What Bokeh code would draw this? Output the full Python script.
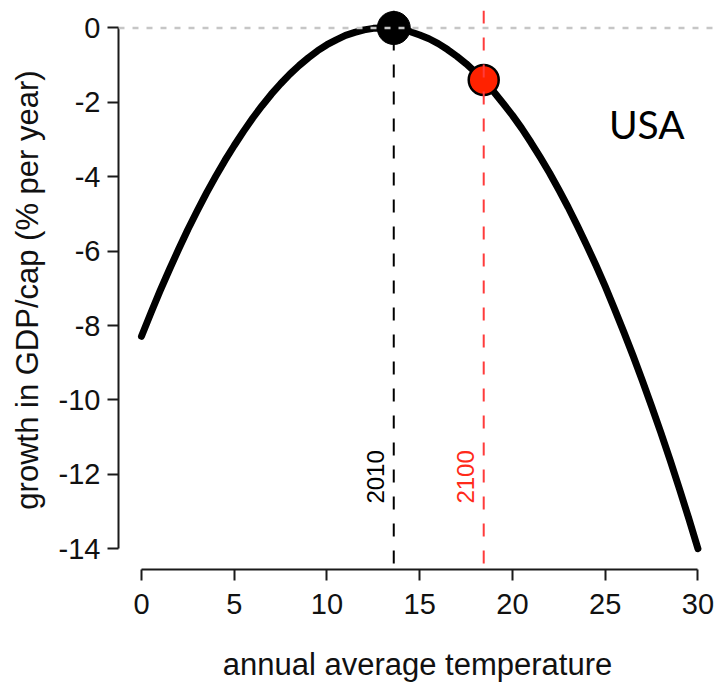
from bokeh.plotting import figure
from bokeh.models import Range1d, Span, FixedTicker, ColumnDataSource
from bokeh.core.properties import value
from bokeh.embed import file_html
from bokeh.resources import INLINE

# ---- data ----
temperature = [0, 0.5, 1, 1.5, 2, 2.5, 3, 3.5, 4, 4.5, 5, 5.5, 6, 6.5, 7, 7.5,
               8, 8.5, 9, 9.5, 10, 10.5, 11, 11.5, 12, 12.5, 13, 13.5, 14, 14.5,
               15, 15.5, 16, 16.5, 17, 17.5, 18, 18.5, 19, 19.5, 20, 20.5, 21,
               21.5, 22, 22.5, 23, 23.5, 24, 24.5, 25, 25.5, 26, 26.5, 27, 27.5,
               28, 28.5, 29, 29.5, 30]
growth = [-8.29, -7.67, -7.07, -6.50, -5.95, -5.42, -4.92, -4.44, -3.99, -3.56,
          -3.16, -2.78, -2.42, -2.09, -1.78, -1.50, -1.24, -1.01, -0.80, -0.61,
          -0.45, -0.32, -0.20, -0.12, -0.05, -0.01, 0.0, -0.01, -0.04, -0.10,
          -0.19, -0.29, -0.42, -0.58, -0.76, -0.96, -1.19, -1.45, -1.72, -2.03,
          -2.35, -2.70, -3.08, -3.48, -3.90, -4.35, -4.82, -5.32, -5.84, -6.38,
          -6.95, -7.55, -8.17, -8.81, -9.48, -10.17, -10.88, -11.62, -12.39,
          -13.18, -14.0]
years = ["2010", "2100"]
year_temp = [13.6, 18.45]
year_growth = [0.0, -1.4]
year_colors = ["#000000", "#ff2a1a"]
line_colors = ["#000000", "#ff3b3b"]
x_ticks = [0, 5, 10, 15, 20, 25, 30]
y_ticks = [0, -2, -4, -6, -8, -10, -12, -14]
country = "USA"

p = figure(width=716, height=686, output_backend="svg", toolbar_location=None,
           x_range=Range1d(-1.24, 31.0), y_range=Range1d(-14.56, 0.47),
           min_border_left=118, min_border_right=0, min_border_top=10,
           min_border_bottom=117)
p.outline_line_color = None
p.grid.visible = False
p.background_fill_color = "white"
p.border_fill_color = "white"

# axes (R style, detached)
for ax in (p.xaxis[0], p.yaxis[0]):
    ax.axis_line_width = 2
    ax.axis_line_color = "#1a1a1a"
    ax.major_tick_line_width = 2
    ax.major_tick_line_color = "#1a1a1a"
    ax.major_tick_in = 0
    ax.major_tick_out = 11
    ax.minor_tick_line_color = None
    ax.major_label_text_font = "Liberation Sans"
    ax.major_label_text_font_size = "29px"
    ax.major_label_text_color = "#111111"
    ax.axis_label_text_font = "Liberation Sans"
    ax.axis_label_text_font_size = "31px"
    ax.axis_label_text_font_style = "normal"
    ax.axis_label_text_color = "#111111"

p.xaxis.bounds = (x_ticks[0], x_ticks[-1])
p.yaxis.bounds = (y_ticks[-1], y_ticks[0])
p.xaxis.ticker = FixedTicker(ticks=x_ticks)
p.yaxis.ticker = FixedTicker(ticks=y_ticks)
p.yaxis.major_label_overrides = {t: str(t) for t in y_ticks}
p.xaxis.major_label_overrides = {t: str(t) for t in x_ticks}
p.xaxis.major_label_standoff = 13
p.yaxis.major_label_standoff = 7
p.xaxis.axis_label = "annual average temperature"
p.yaxis.axis_label = "growth in GDP/cap (% per year)"
p.xaxis.axis_label_standoff = 30
p.yaxis.axis_label_standoff = 11

# zero reference line
p.add_layout(Span(location=0, dimension="width", line_color="#c6c6c6",
                  line_width=2.5, line_dash="6 8"))

# year vertical lines
for t, c in zip(year_temp, line_colors):
    p.add_layout(Span(location=t, dimension="height", line_color=c,
                      line_width=2, line_dash="13 14"))

# curve
p.line(temperature, growth, line_color="black", line_width=7, line_cap="round",
       line_join="round")

# year points
p.scatter([year_temp[0]], [year_growth[0]], size=33, fill_color="black",
          line_color="black", line_width=1)
p.scatter([year_temp[1]], [year_growth[1]], size=30, fill_color="#ff2200",
          line_color="black", line_width=2.5)

# year labels (rotated)
src = ColumnDataSource(dict(x=[t - 0.98 for t in year_temp],
                            y=[-12.07, -12.07], text=years, color=year_colors))
p.text(x="x", y="y", text="text", text_color="color", source=src, angle=1.5708,
       text_align="center", text_baseline="middle",
       text_font=value("Liberation Sans"), text_font_size="24px")

# country label
p.text(x=[25.2], y=[-2.57], text=[country], text_color="black",
       text_align="left", text_baseline="alphabetic",
       text_font=value("Lato"), text_font_size="39px")

open("out.html", "w").write(file_html(p, INLINE))
